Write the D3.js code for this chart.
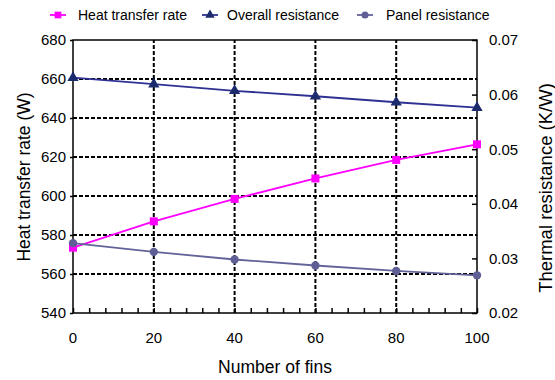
<!DOCTYPE html>
<html lang="en">
<head>
<meta charset="UTF-8">
<title>Heat transfer vs number of fins</title>
<script src="https://d3js.org/d3.v7.min.js"></script>
<style>
  body, html { margin: 0; background: #fff; }
  text { font-family: "Liberation Sans", Arial, sans-serif; fill: #000; }
</style>
</head>
<body>
<div id="chart"></div>
<script>
// data
const fins = [0, 20, 40, 60, 80, 100];
const heatRate = [573.5, 587, 598.5, 609, 618.5, 626.5];
const overallRes = [0.0631, 0.0619, 0.0607, 0.0597, 0.0586, 0.0576];
const panelRes = [0.0328, 0.0312, 0.0298, 0.0287, 0.0277, 0.0269];
const leftTicks = [540, 560, 580, 600, 620, 640, 660, 680];
const rightTicks = [0.02, 0.03, 0.04, 0.05, 0.06, 0.07];

const width = 555, height = 380;
const m = { left: 73, right: 78, top: 40, bottom: 67 };

const svg = d3.select("#chart").append("svg")
  .attr("width", width).attr("height", height);

const x = d3.scaleLinear().domain([0, 100]).range([m.left, width - m.right]);
const yL = d3.scaleLinear().domain([540, 680]).range([height - m.bottom, m.top]);
const yR = d3.scaleLinear().domain([0.02, 0.07]).range([height - m.bottom, m.top]);

// grid
const grid = svg.append("g").attr("stroke", "#000").attr("stroke-width", 2)
  .attr("stroke-dasharray", "4,2");
grid.selectAll(".h").data(leftTicks.slice(1, -1)).join("line")
  .attr("x1", x(0)).attr("x2", x(100))
  .attr("y1", d => yL(d)).attr("y2", d => yL(d));
grid.selectAll(".v").data(fins.slice(1, -1)).join("line")
  .attr("x1", d => x(d)).attr("x2", d => x(d))
  .attr("y1", yL(540)).attr("y2", yL(680));

// frame
svg.append("rect")
  .attr("x", x(0)).attr("y", yL(680))
  .attr("width", x(100) - x(0)).attr("height", yL(540) - yL(680))
  .attr("fill", "none").attr("stroke", "#000").attr("stroke-width", 1.5);

// bottom axis with minor ticks inside
svg.append("g")
  .attr("transform", `translate(0,${yL(540)})`)
  .call(d3.axisBottom(x).tickValues(d3.range(0, 101, 4)).tickSize(-5).tickFormat(""))
  .call(g => g.select(".domain").remove())
  .call(g => g.selectAll("line").attr("stroke-width", 1.5));
svg.append("g").selectAll("text").data(fins).join("text")
  .attr("x", d => x(d)).attr("y", yL(540) + 30)
  .attr("text-anchor", "middle").attr("font-size", 15)
  .text(d => d);

// left axis
svg.append("g")
  .attr("transform", `translate(${x(0)},0)`)
  .call(d3.axisLeft(yL).tickValues(leftTicks).tickSize(3).tickPadding(4))
  .call(g => g.select(".domain").remove())
  .call(g => g.selectAll("line").attr("stroke-width", 1.5))
  .call(g => g.selectAll("text").attr("font-size", 15).attr("font-family", null));

// right axis with inward ticks
svg.append("g")
  .attr("transform", `translate(${x(100)},0)`)
  .call(d3.axisRight(yR).tickValues(rightTicks).tickSize(-5).tickPadding(12)
    .tickFormat(d3.format(".2f")))
  .call(g => g.select(".domain").remove())
  .call(g => g.selectAll("line").attr("stroke-width", 1.5))
  .call(g => g.selectAll("text").attr("font-size", 15).attr("font-family", null));

// axis titles
svg.append("text")
  .attr("transform", `translate(24,177) rotate(-90)`)
  .attr("text-anchor", "middle").attr("dy", "0.35em").attr("font-size", 17.5)
  .text("Heat transfer rate (W)");
svg.append("text")
  .attr("transform", `translate(546,188) rotate(-90)`)
  .attr("text-anchor", "middle").attr("dy", "0.35em").attr("font-size", 18.5)
  .text("Thermal resistance (K/W)");
svg.append("text")
  .attr("x", 275).attr("y", 373)
  .attr("text-anchor", "middle").attr("font-size", 17.5)
  .text("Number of fins");

// series
const series = [
  { name: "Heat transfer rate", values: heatRate, y: yL, line: "#ff00ff", fill: "#ff00ff", shape: d3.symbolSquare, size: 64, lx: 50, tx: 78 },
  { name: "Overall resistance", values: overallRes, y: yR, line: "#2e3192", fill: "#1c2a6e", shape: d3.symbolTriangle, size: 55, lx: 202, tx: 227 },
  { name: "Panel resistance", values: panelRes, y: yR, line: "#63639a", fill: "#5f5f96", shape: d3.symbolCircle, size: 55, lx: 357, tx: 386 }
];

series.forEach(s => {
  const pts = fins.map((f, i) => [x(f), s.y(s.values[i])]);
  svg.append("path")
    .attr("d", d3.line()(pts))
    .attr("fill", "none").attr("stroke", s.line).attr("stroke-width", 1.8);
  svg.append("g").selectAll("path").data(pts).join("path")
    .attr("transform", d => `translate(${d[0]},${d[1]})`)
    .attr("d", d3.symbol().type(s.shape).size(s.size))
    .attr("fill", s.fill);

  // legend entry
  const ly = 15;
  svg.append("line")
    .attr("x1", s.lx).attr("x2", s.lx + 16).attr("y1", ly).attr("y2", ly)
    .attr("stroke", s.line).attr("stroke-width", 1.8);
  svg.append("path")
    .attr("transform", `translate(${s.lx + 8},${ly})`)
    .attr("d", d3.symbol().type(s.shape).size(s.size * 0.7))
    .attr("fill", s.fill);
  svg.append("text")
    .attr("x", s.tx).attr("y", ly).attr("dy", "0.35em")
    .attr("font-size", 14)
    .text(s.name);
});
</script>
</body>
</html>
